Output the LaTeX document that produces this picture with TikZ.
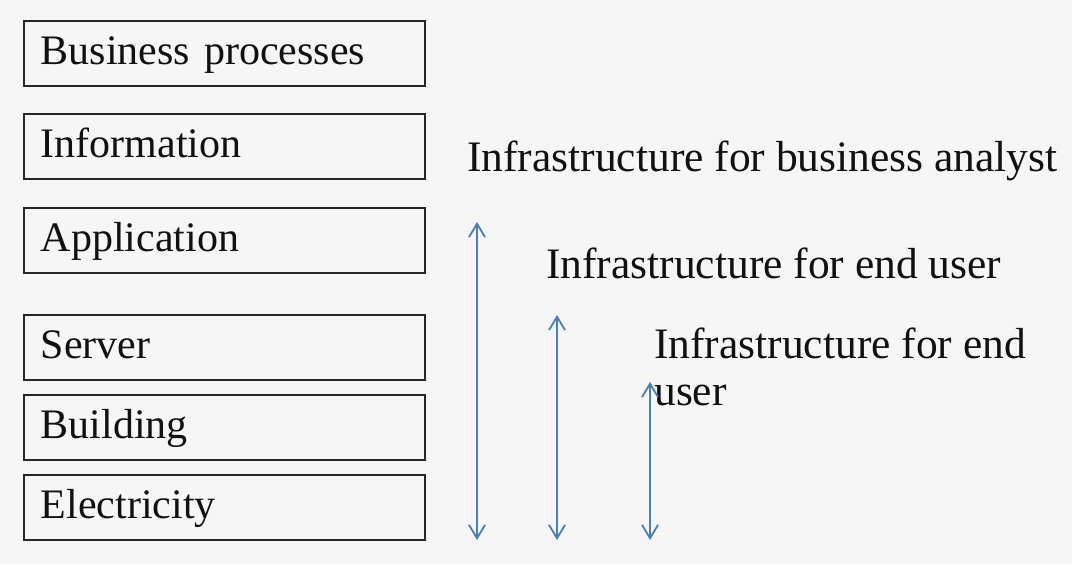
\documentclass[tikz,border=0pt]{standalone}
\usepackage{fontspec}
\setmainfont{Liberation Serif}
\usetikzlibrary{arrows.meta}
\definecolor{bgc}{HTML}{F6F6F6}
\definecolor{arrc}{HTML}{4A7EBB}
\definecolor{boxc}{HTML}{262626}
\definecolor{txtc}{HTML}{111111}
\tikzset{
  layerbox/.style={draw=boxc, line width=1.25pt, anchor=north west,
    text width=275.25pt, align=left, inner xsep=12.75pt, inner ysep=0pt,
    text height=33pt, text depth=15.75pt, font=\fontsize{31.5}{36}\selectfont, text=txtc},
  lbl/.style={anchor=base west, inner sep=0pt, font=\fontsize{32.6}{35.25}\selectfont, text=txtc},
  arr/.style={draw=arrc, line width=1.35pt,
    {Straight Barb[length=10pt,width=12pt]}-{Straight Barb[length=10pt,width=12pt]}}
}
\begin{document}
\begin{tikzpicture}[x=0.75pt,y=-0.75pt]
\fill[bgc] (0,0) rectangle (1072,564);
\useasboundingbox (0,0) rectangle (1072,564);
\node[layerbox] (bp) at (23,20) {Business processes};
\node[layerbox] (info) at (23,113) {Information};
\node[layerbox] (app) at (23,207) {Application};
\node[layerbox] (srv) at (23,314) {Server};
\node[layerbox] (bld) at (23,394) {Building};
\node[layerbox] (ele) at (23,474) {Electricity};
\node[lbl] (ba) at (467,171) {Infrastructure for business analyst};
\node[lbl] (eu1) at (546,278) {Infrastructure for end user};
\node[lbl, align=left] (eu2) at (654,405) {Infrastructure for end\\user};
\coordinate (a1t) at (477,222);
\coordinate (a1b) at (477,540);
\coordinate (a2t) at (557,315);
\coordinate (a2b) at (557,540);
\coordinate (a3t) at (650,382);
\coordinate (a3b) at (650,540);
\draw[arr] (a1b) -- (a1t);
\draw[arr] (a2b) -- (a2t);
\draw[arr] (a3b) -- (a3t);
\end{tikzpicture}
\end{document}
